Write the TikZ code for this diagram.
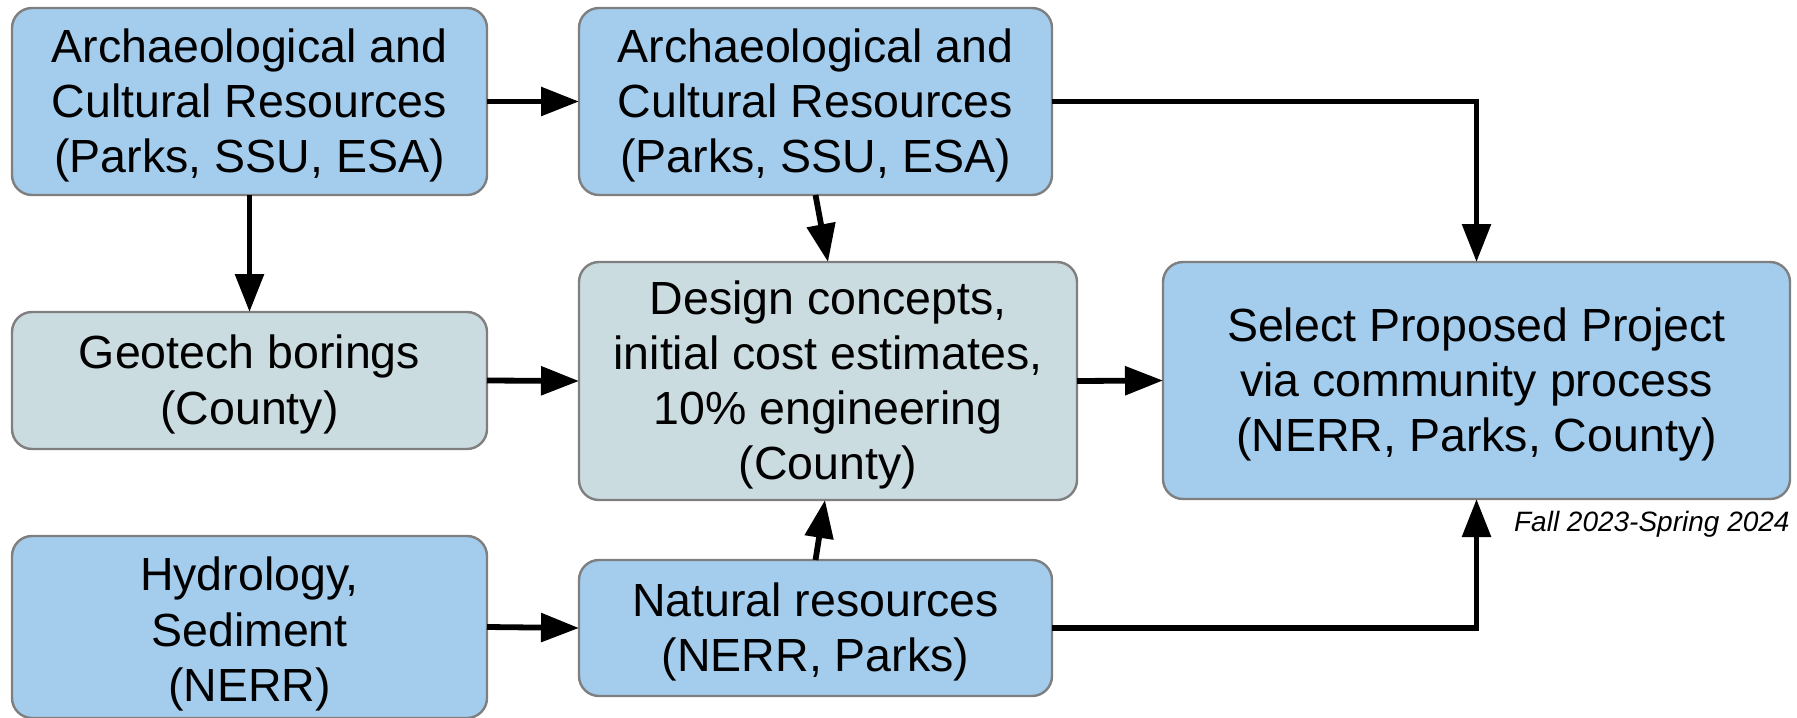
\documentclass[tikz,border=0pt]{standalone}
\usepackage{fontspec}
\setmainfont{Liberation Sans}
\usetikzlibrary{arrows.meta,calc}
\definecolor{boxblue}{HTML}{A4CCEC}
\definecolor{boxgray}{HTML}{CBDCE1}
\definecolor{boxline}{HTML}{7F7F7F}
\tikzset{
  box/.style={draw=boxline, line width=1.2pt, rounded corners=10pt,
    inner sep=0pt, outer sep=0pt},
  bluebox/.style={box, fill=boxblue},
  graybox/.style={box, fill=boxgray},
  txt/.style={align=center, inner sep=0pt, yshift=-2pt,
    font=\fontsize{23.25}{27.6}\selectfont},
  arr/.style={line width=2.9pt, -{Triangle[length=19pt,width=14pt]}},
}
\begin{document}
\begin{tikzpicture}[x=0.5pt,y=-0.5pt]
\useasboundingbox (0,0) rectangle (1797,717);
% boxes (pixel coordinates of the reference), texts as centred labels
\node[bluebox, minimum width=237.5pt, minimum height=93.5pt,
  label={[txt]center:{Archaeological and\\Cultural Resources\\(Parks, SSU, ESA)}}]
  (A1) at (249.5,101.5) {};
\node[bluebox, minimum width=236.5pt, minimum height=93.5pt,
  label={[txt]center:{Archaeological and\\Cultural Resources\\(Parks, SSU, ESA)}}]
  (A2) at (815.5,101.5) {};
\node[graybox, minimum width=237.5pt, minimum height=68.5pt,
  label={[txt]center:{Geotech borings\\(County)}}]
  (geo) at (249.5,380.5) {};
\node[graybox, minimum width=249pt, minimum height=119pt,
  label={[txt]center:{Design concepts,\\initial cost estimates,\\10\% engineering\\(County)}}]
  (design) at (828,381) {};
\node[bluebox, minimum width=313.5pt, minimum height=118.5pt,
  label={[txt]center:{Select Proposed Project\\via community process\\(NERR, Parks, County)}}]
  (select) at (1476.5,380.5) {};
\node[bluebox, minimum width=237.5pt, minimum height=91pt,
  label={[txt, yshift=-1.5pt]center:{Hydrology,\\Sediment\\(NERR)}}]
  (hyd) at (249.5,627) {};
\node[bluebox, minimum width=236.5pt, minimum height=68pt,
  label={[txt]center:{Natural resources\\(NERR, Parks)}}]
  (nat) at (815.5,628) {};
\node[anchor=base east, inner sep=0pt, font=\fontsize{14}{16}\selectfont\itshape] (note) at (1790,531)
  {Fall 2023-Spring 2024};
% connectors
\draw[arr] (A1.east) -- (A2.west);
\draw[arr] (A1.south) -- (geo.north);
\draw[arr] (A2.south) -- (design.north);
\draw[arr] (A2.east) -| (select.north);
\draw[arr] (geo.east) -- (design.west);
\draw[arr] (design.east) -- (select.west);
\draw[arr] (hyd.east) -- (nat.west);
\draw[arr] (nat.north) -- ($(design.south)+(-3,0)$);
\draw[arr] (nat.east) -| (select.south);
\end{tikzpicture}
\end{document}
